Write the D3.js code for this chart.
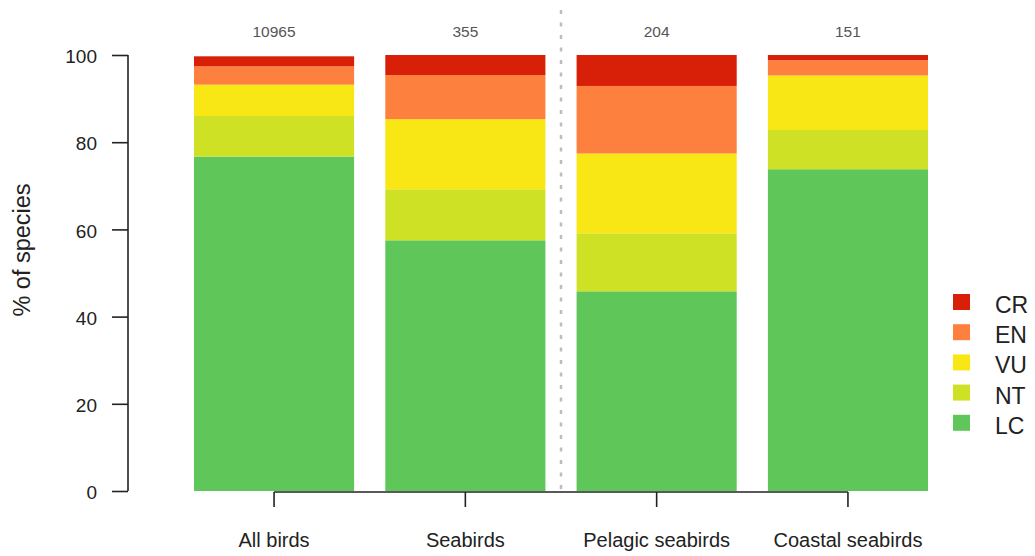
<!DOCTYPE html>
<html>
<head>
<meta charset="utf-8">
<script src="https://cdn.jsdelivr.net/npm/d3@7"></script>
<style>
  body { margin: 0; background: #fff; }
  svg { display: block; font-family: "Liberation Sans", Arial, sans-serif; }
</style>
</head>
<body>
<svg id="chart" width="1035" height="556"></svg>
<script>
// ---- data ----
const categories = ["All birds", "Seabirds", "Pelagic seabirds", "Coastal seabirds"];
const counts = [10965, 355, 204, 151];
const statuses = ["LC", "NT", "VU", "EN", "CR"];          // bottom to top
const LC = [76.7, 57.5, 45.8, 73.8];
const NT = [9.3, 11.7, 13.3, 9.0];
const VU = [7.2, 16.1, 18.3, 12.5];
const EN = [4.2, 10.1, 15.5, 3.5];
const CR = [2.3, 4.6, 7.1, 1.2];
const yTicks = [0, 20, 40, 60, 80, 100];
const colors = { LC: "#5FC65A", NT: "#CFE125", VU: "#F8E714", EN: "#FE803E", CR: "#D82008" };

const seriesValues = { LC, NT, VU, EN, CR };
const rows = categories.map((c, i) => {
  const r = { category: c };
  statuses.forEach(s => r[s] = seriesValues[s][i]);
  return r;
});

// ---- layout ----
const svg = d3.select("#chart");
const margin = { left: 194, right: 107, top: 55, bottom: 65 };
const plotBottom = 491, plotTop = 55;

const x = d3.scaleBand()
  .domain(categories)
  .range([194, 928])
  .paddingInner(0.163)
  .paddingOuter(0);

const y = d3.scaleLinear().domain([0, 100]).range([plotBottom, plotTop]);

const stack = d3.stack().keys(statuses);
const stacked = stack(rows);

// bars
svg.append("g").selectAll("g")
  .data(stacked)
  .join("g")
  .attr("fill", d => colors[d.key])
  .selectAll("rect")
  .data(d => d)
  .join("rect")
  .attr("x", d => x(d.data.category))
  .attr("width", x.bandwidth())
  .attr("y", d => y(d[1]))
  .attr("height", d => y(d[0]) - y(d[1]));

// separator dotted line
const sepX = (x("Seabirds") + x.bandwidth() + x("Pelagic seabirds")) / 2;
svg.append("line")
  .attr("x1", sepX).attr("x2", sepX)
  .attr("y1", 10).attr("y2", 491)
  .attr("stroke", "#bdbdbd")
  .attr("stroke-width", 2.5)
  .attr("stroke-dasharray", "4,8.5");

// counts
svg.append("g").selectAll("text")
  .data(categories)
  .join("text")
  .attr("x", d => x(d) + x.bandwidth() / 2)
  .attr("y", 37)
  .attr("text-anchor", "middle")
  .attr("font-size", 15.5)
  .attr("fill", "#555")
  .text((d, i) => counts[i]);

// y axis
const yAxis = d3.axisLeft(y).tickValues(yTicks).tickSize(16).tickPadding(15);
const gy = svg.append("g").attr("transform", "translate(128,0)").call(yAxis);
gy.select(".domain").attr("d", `M0,${y(0)}V${y(100)}`).attr("stroke", "#222").attr("stroke-width", 1.6);
gy.selectAll(".tick line").attr("stroke", "#222").attr("stroke-width", 1.6);
gy.selectAll(".tick text")
  .attr("font-size", 19)
  .attr("font-family", "'Liberation Sans', Arial, sans-serif")
  .attr("fill", "#222")
  .attr("dy", "0.4em");

// x axis
const xAxis = d3.axisBottom(x).tickSize(15).tickPadding(0).tickFormat(() => "");
const gx = svg.append("g").attr("transform", "translate(0,492)").call(xAxis);
const first = x(categories[0]) + x.bandwidth() / 2;
const last = x(categories[categories.length - 1]) + x.bandwidth() / 2;
gx.select(".domain").attr("d", `M${first},0H${last}`).attr("stroke", "#222").attr("stroke-width", 1.6);
gx.selectAll(".tick line").attr("stroke", "#222").attr("stroke-width", 1.6);

svg.append("g").selectAll("text")
  .data(categories)
  .join("text")
  .attr("x", d => x(d) + x.bandwidth() / 2)
  .attr("y", 547)
  .attr("text-anchor", "middle")
  .attr("font-size", 20)
  .attr("fill", "#222")
  .text(d => d);

// y label
svg.append("text")
  .attr("transform", "translate(30,250) rotate(-90)")
  .attr("text-anchor", "middle")
  .attr("font-size", 23.5)
  .attr("fill", "#222")
  .text("% of species");

// legend
const legendKeys = ["CR", "EN", "VU", "NT", "LC"];
const lg = svg.append("g").selectAll("g")
  .data(legendKeys)
  .join("g")
  .attr("transform", (d, i) => `translate(953, ${302 + i * 30.2})`);
lg.append("rect")
  .attr("x", 0).attr("y", -8)
  .attr("width", 17).attr("height", 16)
  .attr("fill", d => colors[d]);
lg.append("text")
  .attr("x", 42)
  .attr("y", 11)
  .attr("font-size", 23)
  .attr("fill", "#222")
  .text(d => d);
</script>
</body>
</html>
